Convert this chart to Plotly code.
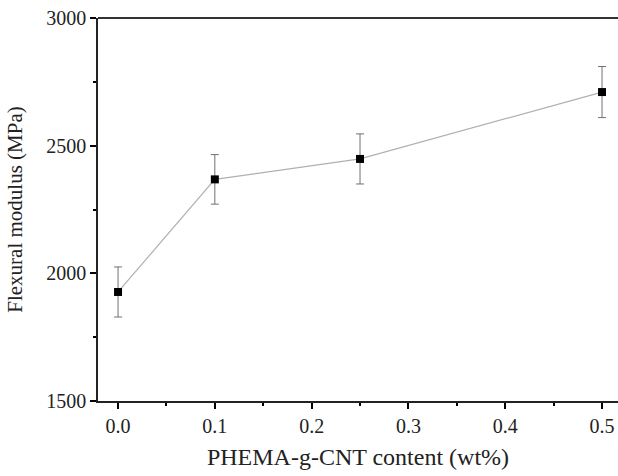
import plotly.graph_objects as go

content = [0.0, 0.1, 0.25, 0.5]
modulus = [1927, 2368, 2448, 2710]
err = [98, 97, 98, 100]

x_ticks = [0.0, 0.1, 0.2, 0.3, 0.4, 0.5]
x_tick_text = ["0.0", "0.1", "0.2", "0.3", "0.4", "0.5"]
y_ticks = [1500, 2000, 2500, 3000]

font = "Liberation Serif"

fig = go.Figure()
fig.add_trace(go.Scatter(
    x=content, y=modulus,
    mode="lines+markers",
    line=dict(color="#b0b0b0", width=1.2),
    marker=dict(symbol="square", size=8, color="black"),
    error_y=dict(type="data", array=err, visible=True, color="#707070", thickness=1, width=4),
    showlegend=False,
))

fig.update_layout(
    width=618, height=476,
    margin=dict(l=98, r=0, t=18, b=75),
    plot_bgcolor="white", paper_bgcolor="white",
    font=dict(family=font, color="#222222"),
    xaxis=dict(
        range=[-0.0207, 0.5165],
        tickmode="array", tickvals=x_ticks, ticktext=x_tick_text,
        ticks="outside", ticklen=6, tickwidth=1.5, tickcolor="black",
        minor=dict(tickmode="linear", tick0=0.05, dtick=0.1, ticks="outside", ticklen=3,
                   tickcolor="black", tickwidth=1.5),
        showline=True, linecolor="#222", linewidth=1.5, mirror=False,
        showgrid=False, zeroline=False,
        tickfont=dict(size=20, family=font),
        title=dict(text="PHEMA-g-CNT content (wt%)", font=dict(size=24, family=font), standoff=12),
    ),
    yaxis=dict(
        range=[1500, 3000],
        tickmode="array", tickvals=y_ticks,
        ticks="outside", ticklen=6, tickwidth=1.5, tickcolor="black",
        minor=dict(tickmode="linear", tick0=1750, dtick=500, ticks="outside", ticklen=3,
                   tickcolor="black", tickwidth=1.5),
        showline=True, linecolor="#222", linewidth=1.5,
        showgrid=False, zeroline=False,
        tickfont=dict(size=20, family=font),
        title=dict(text="Flexural modulus (MPa)", font=dict(size=21, family=font), standoff=18),
    ),
    shapes=[dict(type="line", xref="paper", yref="paper", x0=0, x1=1, y0=1, y1=1,
                 line=dict(color="#333", width=2))],
)

fig.write_html("out.html")
